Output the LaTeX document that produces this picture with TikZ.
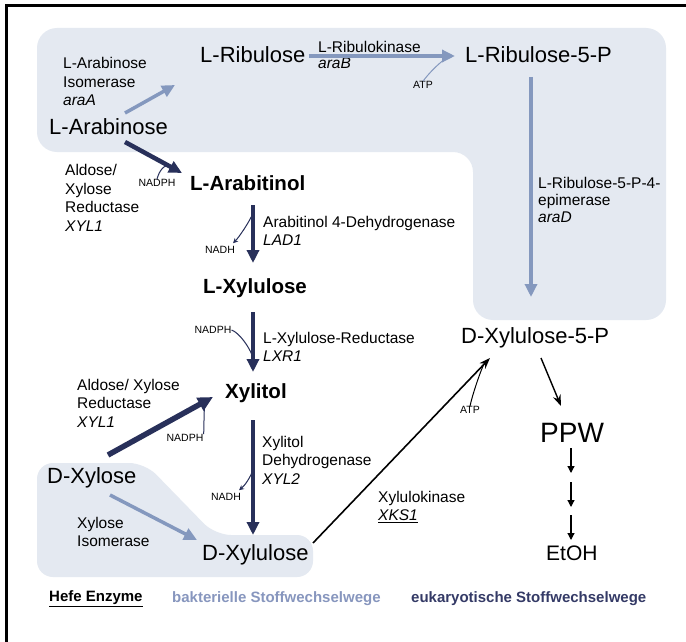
\documentclass[tikz,border=0pt]{standalone}
\usepackage{fontspec}
\setmainfont{Liberation Sans}
\usetikzlibrary{arrows.meta,calc}
\definecolor{bgblue}{RGB}{228,233,241}
\definecolor{lightarr}{RGB}{132,152,190}
\definecolor{darkarr}{RGB}{40,48,90}
\definecolor{baktxt}{RGB}{135,150,190}
\definecolor{euktxt}{RGB}{52,58,102}
\begin{document}
\begin{tikzpicture}[x=1pt,y=-1pt,
  big/.style={font=\fontsize{22}{26}\selectfont, inner sep=0pt, anchor=west},
  bigb/.style={font=\fontsize{20.5}{24}\bfseries\selectfont, inner sep=0pt, anchor=west},
  lab/.style={font=\fontsize{15.5}{18.5}\selectfont, align=left, inner sep=0pt, anchor=west},
  tiny/.style={font=\fontsize{10.5}{12}\selectfont, inner sep=0pt},
  legend/.style={font=\fontsize{15}{18}\bfseries\selectfont, inner sep=0pt, anchor=west},
  larrow/.style={draw=lightarr, line width=3.5pt, -{Triangle[length=13pt,width=12pt]}},
  darrow/.style={draw=darkarr, line width=4.5pt, -{Triangle[length=13pt,width=12pt]}},
  barrow/.style={draw=black, line width=1.6pt, -{Stealth[length=11pt,width=8pt]}},
  sarrow/.style={draw=black, line width=1.2pt, -{Triangle[length=7pt,width=7pt]}},
  cofl/.style={draw=lightarr, line width=1pt},
  cofd/.style={draw=darkarr, line width=1pt},
  cofdh/.style={draw=darkarr, line width=1pt, -{Stealth[length=5pt,width=5pt]}},
  cofb/.style={draw=black, line width=1pt}]
\useasboundingbox (0,0) rectangle (686,642);
\fill[white] (0,0) rectangle (686,642);
\draw[line width=3pt] (686,6) -- (6,6) -- (6,642);

% shaded areas
\fill[bgblue, rounded corners=20pt] (37,28) -- (666,28) -- (666,320) -- (473,320) -- (473,152) -- (37,152) -- cycle;
\fill[bgblue, rounded corners=16pt] (37,463) -- (145,463) -- (215,535) -- (313,535) -- (313,577) -- (37,577) -- cycle;

% metabolites
\node[big]  (Lrib)   at (200,55)  {L-Ribulose};
\node[big]  (Lara)   at (49,127)  {L-Arabinose};
\node[big]  (Lrib5P) at (465,55)  {L-Ribulose-5-P};
\node[bigb] (Larab)  at (190,183) {L-Arabitinol};
\node[bigb] (Lxyl)   at (203,288) {L-Xylulose};
\node[bigb] (Xylitol) at (225,393) {Xylitol};
\node[big]  (Dxylose) at (47,478) {D-Xylose};
\node[big]  (Dxylu)  at (202,555) {D-Xylulose};
\node[big]  (Dx5P)   at (461,338) {D-Xylulose-5-P};
\node[font=\fontsize{28}{32}\selectfont, inner sep=0pt, anchor=west] (PPW) at (540,433) {PPW};
\node[font=\fontsize{21}{25}\selectfont, inner sep=0pt, anchor=west] (EtOH) at (546,553) {EtOH};

% enzyme labels
\node[lab] (e1) at (63,81.5) {L-Arabinose\\Isomerase\\\textit{araA}};
\node[lab, font=\fontsize{15.5}{16}\selectfont] (e2) at (318,55) {L-Ribulokinase\\\textit{araB}};
\node[lab, font=\fontsize{15.5}{17}\selectfont] (e3) at (538,200) {L-Ribulose-5-P-4-\\epimerase\\\textit{araD}};
\node[lab] (e4) at (65,198) {Aldose/\\Xylose\\Reductase\\\textit{XYL1}};
\node[lab] (e5) at (263,231) {Arabitinol 4-Dehydrogenase\\\textit{LAD1}};
\node[lab] (e6) at (263,347) {L-Xylulose-Reductase\\\textit{LXR1}};
\node[lab] (e7) at (77,403) {Aldose/ Xylose\\Reductase\\\textit{XYL1}};
\node[lab] (e8) at (262,460) {Xylitol\\Dehydrogenase\\\textit{XYL2}};
\node[lab] (e9) at (77,532) {Xylose\\Isomerase};
\node[lab] (e10) at (378,507) {Xylulokinase\\\underline{\textit{XKS1}}};

% cofactors
\node[tiny] (atp1) at (423,85) {ATP};
\node[tiny] (nadph1) at (157,183) {NADPH};
\node[tiny] (nadh1) at (220,250) {NADH};
\node[tiny] (nadph2) at (213,330) {NADPH};
\node[tiny] (nadph3) at (185,438) {NADPH};
\node[tiny] (nadh2) at (226,497) {NADH};
\node[tiny] (atp2) at (470,410) {ATP};

% legend
\node[legend] (leg1) at (49,599) {\underline{Hefe Enzyme}};
\node[legend, text=baktxt] (leg2) at (172,599) {bakterielle Stoffwechselwege};
\node[legend, text=euktxt] (leg3) at (411,599) {eukaryotische Stoffwechselwege};

% bacterial pathway arrows
\draw[larrow] ($(Lara.west)+(76,-14)$) -- ($(Lrib.west)+(-25,30)$);
\draw[larrow] ($(Lrib.east)+(3,1)$) -- ($(Lrib5P.west)+(-10,1)$);
\draw[larrow] ($(Lrib5P.west)+(66,22)$) -- ($(Dx5P.west)+(70,-41)$);
\draw[larrow] ($(Dxylose.west)+(63,17)$) -- ($(Dxylu.west)+(-5,-15)$);

% eukaryotic pathway arrows
\draw[darrow] ($(Lara.west)+(76,15)$) -- ($(Larab.west)+(-8,-10)$);
\draw[darrow] ($(Larab.west)+(63,22)$) -- ($(Lxyl.west)+(50,-25)$);
\draw[darrow] ($(Lxyl.west)+(50,24)$) -- ($(Xylitol.west)+(28,-21)$);
\draw[darrow, line width=5.5pt, -{Triangle[length=15pt,width=14pt]}] ($(Dxylose.west)+(61,-23)$) -- ($(Xylitol.west)+(-12,4)$);
\draw[darrow] ($(Xylitol.west)+(28,27)$) -- ($(Dxylu.west)+(51,-20)$);

% yeast / downstream arrows
\draw[barrow] ($(Dxylu.west)+(111,-12)$) -- ($(Dx5P.west)+(29,20)$);
\draw[barrow, line width=1.4pt] ($(Dx5P.west)+(80,20)$) -- ($(PPW.west)+(21,-27)$);
\coordinate (m1) at (571,477);
\coordinate (m2) at (571,511);
\draw[sarrow] ($(PPW.west)+(31,15)$) -- ($(m1)+(0,-4)$);
\draw[sarrow] ($(m1)+(0,5)$) -- ($(m2)+(0,-4)$);
\draw[sarrow] ($(m2)+(0,4)$) -- ($(EtOH.west)+(25,-13)$);

% cofactor curves
\coordinate (j1) at (445,59);
\coordinate (j2) at (170,166);
\coordinate (j3) at (253,213);
\coordinate (j4) at (252,355);
\coordinate (j5) at (206,402);
\coordinate (j6) at (253,470);
\coordinate (j7) at (484,364);
\draw[cofl] (atp1.north) .. controls +(6,-8) and +(-8,6) .. (j1);
\draw[cofd] (nadph1.north) .. controls +(2,-8) and +(-6,-2) .. (j2);
\draw[cofdh] (j3) .. controls +(-3,8) and +(6,-6) .. ($(nadh1.north east)+(-2,-3)$);
\draw[cofd] (nadph2.east) .. controls +(8,3) and +(-3,-8) .. (j4);
\draw[cofd] (nadph3.north east) .. controls +(1,-10) and +(-3,6) .. (j5);
\draw[cofdh] (j6) .. controls +(-3,8) and +(6,-5) .. ($(nadh2.north east)+(-2,-3)$);
\draw[cofb] (atp2.north) .. controls +(2,-10) and +(-4,8) .. (j7);
\end{tikzpicture}
\end{document}
